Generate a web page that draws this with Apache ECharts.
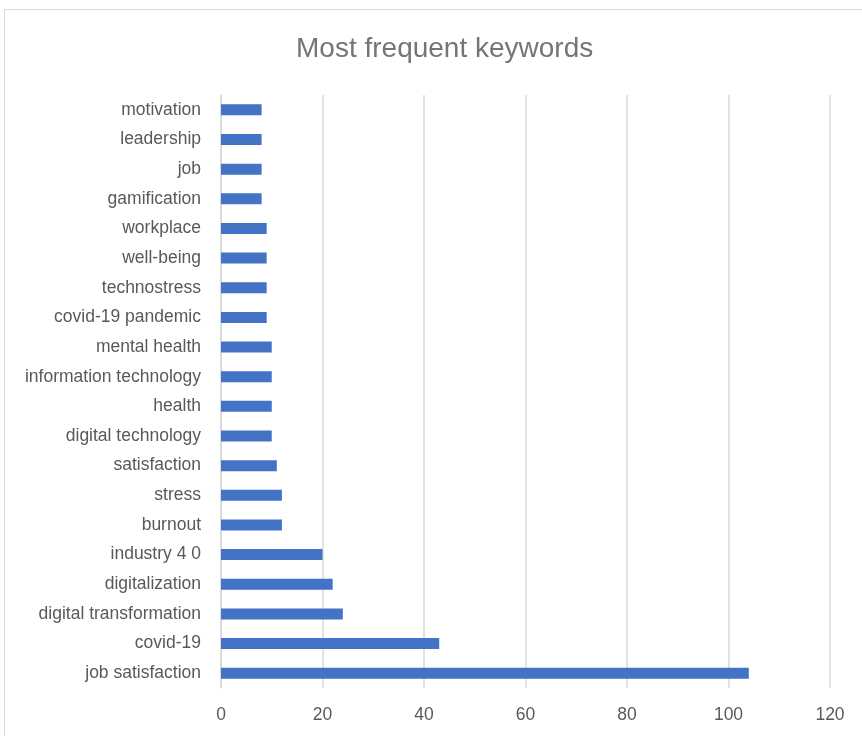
<!DOCTYPE html>
<html><head><meta charset="utf-8">
<script src="https://cdn.jsdelivr.net/npm/echarts@6/dist/echarts.min.js"></script>
<style>html,body{margin:0;padding:0;background:#fff}#c{width:862px;height:736px}</style>
</head><body><div id="c"></div>
<script>
const categories = ["motivation","leadership","job","gamification","workplace","well-being","technostress","covid-19 pandemic","mental health","information technology","health","digital technology","satisfaction","stress","burnout","industry 4 0","digitalization","digital transformation","covid-19","job satisfaction"];
const counts = [8,8,8,8,9,9,9,9,10,10,10,10,11,12,12,20,22,24,43,104];
const xTicks = [0,20,40,60,80,100,120];

const chart = echarts.init(document.getElementById('c'));
chart.setOption({
  animation:false,
  title:{text:'Most frequent keywords',left:291,top:30,
    textStyle:{fontFamily:'Liberation Sans',fontSize:28,fontWeight:'normal',color:'#757575'}},
  graphic:[{type:'rect',shape:{x:4.5,y:9.5,width:900,height:800},
    style:{fill:'none',stroke:'#d9d9d9',lineWidth:1}}],
  grid:{left:221,right:32,top:95,bottom:48,containLabel:false},
  xAxis:{type:'value',min:xTicks[0],max:xTicks[xTicks.length-1],interval:20,
    axisLine:{show:false},axisTick:{show:false},
    axisLabel:{fontFamily:'Liberation Sans',fontSize:17.5,color:'#595959',margin:18},
    splitLine:{lineStyle:{color:'#d9d9d9',width:1.5}}},
  yAxis:{type:'category',data:categories,inverse:true,
    axisLine:{show:true,lineStyle:{color:'#d9d9d9',width:1.5}},axisTick:{show:false},
    axisLabel:{fontFamily:'Liberation Sans',fontSize:17.5,color:'#595959',margin:20}},
  series:[{type:'bar',data:counts,barWidth:11,itemStyle:{color:'#4472C4'}}]
});
</script></body></html>
